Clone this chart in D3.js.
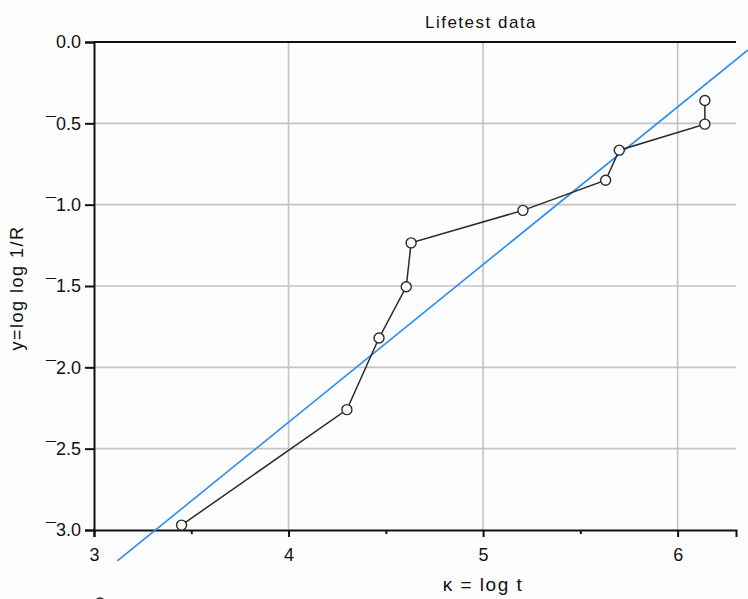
<!DOCTYPE html>
<html>
<head>
<meta charset="utf-8">
<script src="https://cdn.jsdelivr.net/npm/d3@7"></script>
<style>
  body { margin: 0; background: #fdfdfd; }
  text { font-family: "Liberation Sans", Arial, sans-serif; fill: #111; }
</style>
</head>
<body>
<script>
// data
var logT = [3.45, 4.30, 4.465, 4.605, 4.63, 5.205, 5.63, 5.70, 6.14, 6.14];
var logLogR = [-2.97, -2.26, -1.82, -1.505, -1.235, -1.035, -0.85, -0.665, -0.505, -0.36];
var fitX = [3.12, 6.36];
var fitY = [-3.19, -0.05];
var xTicks = [3, 4, 5, 6];
var xMinor = [3.5, 4.5, 5.5];
var yTicks = [0, -0.5, -1, -1.5, -2, -2.5, -3];

var width = 748, height = 599;
var margin = {top: 42, right: 12, bottom: 69, left: 94};

var x = d3.scaleLinear()
    .domain([3, 6.3])
    .range([margin.left, width - margin.right]);
var y = d3.scaleLinear()
    .domain([-3, 0])
    .range([height - margin.bottom, margin.top]);

var svg = d3.select("body").append("svg")
    .attr("width", width)
    .attr("height", height);

// grid
svg.append("g").selectAll("line")
    .data(yTicks.filter(function(d){ return d > -3 && d < 0; }))
    .enter().append("line")
    .attr("x1", x.range()[0]).attr("x2", x.range()[1])
    .attr("y1", function(d){ return y(d); }).attr("y2", function(d){ return y(d); })
    .attr("stroke", "#c4c4c4").attr("stroke-width", 1.6);
svg.append("g").selectAll("line")
    .data(xTicks.filter(function(d){ return d > 3; }))
    .enter().append("line")
    .attr("x1", function(d){ return x(d); }).attr("x2", function(d){ return x(d); })
    .attr("y1", y(0)).attr("y2", y(-3))
    .attr("stroke", "#c4c4c4").attr("stroke-width", 1.6);

// axes
var fmtY = function(d){ return (d < 0 ? "\u00AF" : "") + Math.abs(d).toFixed(1); };
svg.append("g")
    .attr("transform", "translate(" + margin.left + ",0)")
    .call(d3.axisLeft(y).tickValues(yTicks).tickFormat(fmtY).tickSize(9).tickPadding(4));
svg.append("g")
    .attr("transform", "translate(0," + y(-3) + ")")
    .call(d3.axisBottom(x).tickValues(xTicks).tickFormat(d3.format("d")).tickSize(7).tickPadding(11));
svg.append("g")
    .attr("transform", "translate(0," + y(-3) + ")")
    .call(d3.axisBottom(x).tickValues(xMinor).tickFormat("").tickSize(4))
    .select(".domain").remove();
svg.selectAll(".domain, .tick line").attr("stroke", "#111").attr("stroke-width", 2);
svg.selectAll(".tick text").style("font-size", "18px").attr("fill", "#111");

// top border
svg.append("line")
    .attr("x1", x.range()[0]).attr("x2", x.range()[1])
    .attr("y1", y(0)).attr("y2", y(0))
    .attr("stroke", "#111").attr("stroke-width", 2);

// fitted line
svg.append("line")
    .attr("x1", x(fitX[0])).attr("y1", y(fitY[0]))
    .attr("x2", x(fitX[1])).attr("y2", y(fitY[1]))
    .attr("stroke", "#2a8cf2").attr("stroke-width", 1.6);

// data line + markers
var pts = logT.map(function(d, i){ return [d, logLogR[i]]; });
svg.append("path")
    .datum(pts)
    .attr("fill", "none")
    .attr("stroke", "#2a2a2a")
    .attr("stroke-width", 1.5)
    .attr("d", d3.line().x(function(d){ return x(d[0]); }).y(function(d){ return y(d[1]); }));
svg.append("g").selectAll("circle")
    .data(pts)
    .enter().append("circle")
    .attr("cx", function(d){ return x(d[0]); })
    .attr("cy", function(d){ return y(d[1]); })
    .attr("r", 5)
    .attr("fill", "#fff")
    .attr("stroke", "#2a2a2a")
    .attr("stroke-width", 1.4);

// legend marker peeking at bottom
svg.append("circle")
    .attr("cx", 100).attr("cy", 603).attr("r", 5)
    .attr("fill", "#fff").attr("stroke", "#2a2a2a").attr("stroke-width", 1.4);

// labels
svg.append("text")
    .attr("x", 481).attr("y", 28)
    .attr("text-anchor", "middle")
    .style("font-size", "17px").style("letter-spacing", "1.5px")
    .text("Lifetest data");
svg.append("text")
    .attr("x", 483).attr("y", 591)
    .attr("text-anchor", "middle")
    .style("font-size", "19px").style("letter-spacing", "1.5px")
    .text("\u03BA = log t");
svg.append("text")
    .attr("transform", "translate(23,288) rotate(-90)")
    .attr("text-anchor", "middle")
    .style("font-size", "18px").style("letter-spacing", "1.5px")
    .text("y=log log 1/R");
</script>
</body>
</html>
